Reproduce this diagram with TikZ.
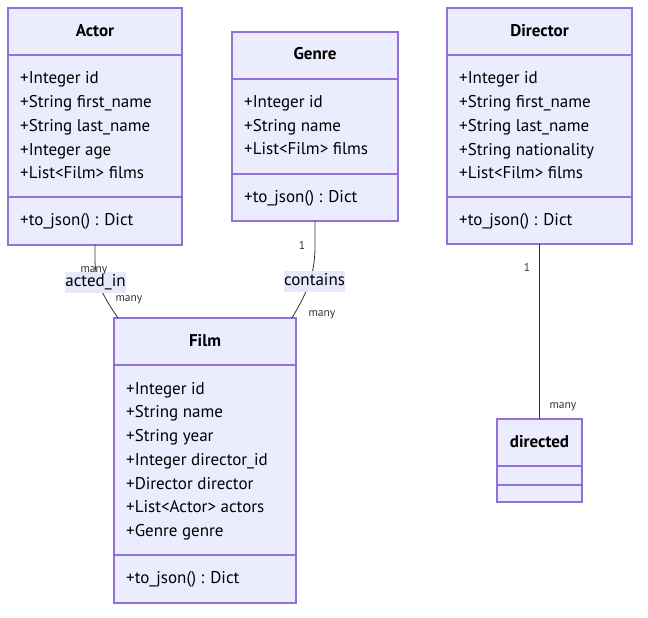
\documentclass[tikz,border=0pt]{standalone}
\usepackage{fontspec}
\setmainfont{PT Sans}
\usetikzlibrary{positioning}
\definecolor{boxfill}{HTML}{ECECFF}
\definecolor{boxline}{HTML}{9370DB}
\definecolor{edgeline}{HTML}{333333}
\definecolor{lblfill}{HTML}{E8E8FC}
\tikzset{
  classbox/.style={draw=boxline, fill=boxfill, line width=1.2pt, inner sep=0pt, outer sep=0pt},
  sepline/.style={draw=boxline, line width=1.2pt},
  title/.style={font=\fontsize{17}{20}\selectfont\bfseries, inner sep=0pt, text=black, anchor=base, yshift=-5.8pt},
  attr/.style={font=\fontsize{17}{20}\selectfont, anchor=base west, inner sep=0pt, text=black, yshift=-5.8pt},
  mult/.style={font=\fontsize{11.5}{13}\selectfont, inner sep=0pt, text=edgeline, anchor=base, yshift=-4pt},
  elabel/.style={font=\fontsize{17}{20}\selectfont, fill=lblfill, inner sep=0pt, text=black, text height=12pt, text depth=4pt},
  conn/.style={draw=edgeline, line width=0.8pt},
}
\begin{document}
\begin{tikzpicture}[x=1pt,y=-1pt]
\useasboundingbox (0,0) rectangle (648,618);
% Actor
\node[classbox, minimum width=174pt, minimum height=237pt] (actor) at (95,126.5) {};
\draw[sepline] (8,55) -- (182,55) (8,197) -- (182,197);
\node[title] (actorT) at (95,31) {Actor};
\node[attr] (a1) at (20,78) {+Integer id};
\node[attr] (a2) at (20,102) {+String first\_name};
\node[attr] (a3) at (20,126) {+String last\_name};
\node[attr] (a4) at (20,150) {+Integer age};
\node[attr] (a5) at (20,173) {+List<Film> films};
\node[attr] (a6) at (20,220) {+to\_json() : Dict};
% Genre
\node[classbox, minimum width=166pt, minimum height=189pt] (genre) at (315,126.5) {};
\draw[sepline] (232,79) -- (398,79) (232,174) -- (398,174);
\node[title] (genreT) at (315,54) {Genre};
\node[attr] (g1) at (244,102) {+Integer id};
\node[attr] (g2) at (244,126) {+String name};
\node[attr] (g3) at (244,149) {+List<Film> films};
\node[attr] (g4) at (244,197) {+to\_json() : Dict};
% Director
\node[classbox, minimum width=185pt, minimum height=236pt] (director) at (539.5,126) {};
\draw[sepline] (447,55) -- (632,55) (447,197) -- (632,197);
\node[title] (directorT) at (539.5,31) {Director};
\node[attr] (d1) at (459,78) {+Integer id};
\node[attr] (d2) at (459,102) {+String first\_name};
\node[attr] (d3) at (459,126) {+String last\_name};
\node[attr] (d4) at (459,150) {+String nationality};
\node[attr] (d5) at (459,173) {+List<Film> films};
\node[attr] (d6) at (459,220) {+to\_json() : Dict};
% Film
\node[classbox, minimum width=182pt, minimum height=285pt] (film) at (205,460.5) {};
\draw[sepline] (114,365) -- (296,365) (114,555) -- (296,555);
\node[title] (filmT) at (205,341) {Film};
\node[attr] (f1) at (126,389) {+Integer id};
\node[attr] (f2) at (126,412) {+String name};
\node[attr] (f3) at (126,436) {+String year};
\node[attr] (f4) at (126,460) {+Integer director\_id};
\node[attr] (f5) at (126,484) {+Director director};
\node[attr] (f6) at (126,507) {+List<Actor> actors};
\node[attr] (f7) at (126,531) {+Genre genre};
\node[attr] (f8) at (126,578) {+to\_json() : Dict};
% directed
\node[classbox, minimum width=85pt, minimum height=83pt] (directed) at (539.5,460.5) {};
\draw[sepline] (497,466) -- (582,466) (497,485) -- (582,485);
\node[title] (directedT) at (539.5,442) {directed};
% connector end points
\coordinate (filmA) at (118,318);
\coordinate (filmG) at (292,318);
% connectors
\draw[conn] (actor.south) -- (95,262) .. controls (96,280) and (100,292) .. (filmA);
\draw[conn] (genre.south) -- (315,250) .. controls (314,278) and (306,294) .. (filmG);
\draw[conn] (director.south) -- (directed.north);
% edge labels
\node[elabel, minimum width=61pt, minimum height=21pt] (actedin) at (95.5,282) {acted\_in};
\node[elabel, minimum width=59pt, minimum height=21pt] (contains) at (314.5,281.5) {contains};
% multiplicities
\node[mult] (m1) at (94,268) {many};
\node[mult] (m2) at (129,297) {many};
\node[mult] (m3) at (302,245) {1};
\node[mult] (m4) at (322,312) {many};
\node[mult] (m5) at (527,267) {1};
\node[mult] (m6) at (563,404) {many};
\end{tikzpicture}
\end{document}
